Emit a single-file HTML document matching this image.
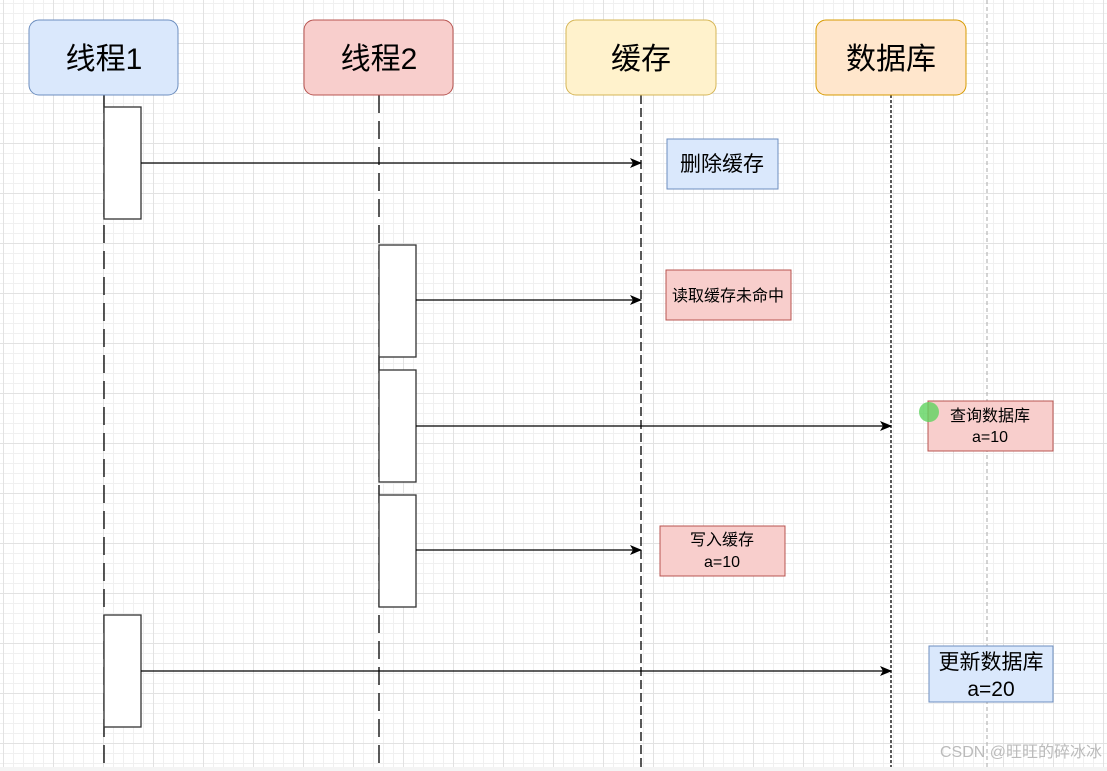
<!DOCTYPE html>
<html><head><meta charset="utf-8"><style>
body{margin:0;width:1107px;height:771px;overflow:hidden;background:#fff;
background-image:linear-gradient(#e2e2e2 1px,transparent 1px),linear-gradient(90deg,#e2e2e2 1px,transparent 1px),linear-gradient(#f0f0f0 1px,transparent 1px),linear-gradient(90deg,#f0f0f0 1px,transparent 1px);
background-size:50px 50px,50px 50px,10px 10px,10px 10px;background-position:0 -7px,3px 0,0 -7px,3px 0;
font-family:"Liberation Sans","Noto Sans CJK SC",sans-serif;}
</style></head><body>
<svg width="1107" height="771" style="position:absolute;left:0;top:0" font-family="Liberation Sans, Noto Sans CJK SC, sans-serif">
<defs><marker id="a" markerWidth="12" markerHeight="10" refX="11" refY="5" orient="auto" markerUnits="userSpaceOnUse"><path d="M0,0 L12,5 L0,10 L3,5z" fill="#000"/></marker></defs>
<line x1="987" y1="0" x2="987" y2="771" stroke="#aaa" stroke-dasharray="4,3"/>
<g stroke="#000" stroke-width="1.3">
<line x1="104" y1="95" x2="104" y2="771" stroke-dasharray="18,8"/>
<line x1="379" y1="95" x2="379" y2="771" stroke-dasharray="18,8"/>
<line x1="641" y1="95" x2="641" y2="771" stroke-dasharray="9,4"/>
<line x1="891" y1="95" x2="891" y2="771" stroke-dasharray="3,2"/>
</g>
<rect x="29" y="20" width="149" height="75" rx="10" fill="#dae8fc" stroke="#6c8ebf"/>
<rect x="304" y="20" width="149" height="75" rx="10" fill="#f8cecc" stroke="#b85450"/>
<rect x="566" y="20" width="150" height="75" rx="10" fill="#fff2cc" stroke="#d6b656"/>
<rect x="816" y="20" width="150" height="75" rx="10" fill="#ffe6cc" stroke="#d79b00"/>
<g font-size="30" text-anchor="middle">
<text x="104" y="69">线程1</text><text x="379" y="69">线程2</text><text x="641" y="69">缓存</text><text x="891" y="69">数据库</text></g>
<g fill="#fff" stroke="#333" stroke-width="1.3">
<rect x="104" y="107" width="37" height="112"/><rect x="104" y="615" width="37" height="112"/>
<rect x="379" y="245" width="37" height="112"/><rect x="379" y="370" width="37" height="112"/><rect x="379" y="495" width="37" height="112"/>
</g>
<g stroke="#000" stroke-width="1.3" marker-end="url(#a)">
<line x1="141" y1="163" x2="641" y2="163"/><line x1="416" y1="300" x2="641" y2="300"/>
<line x1="416" y1="426" x2="891" y2="426"/><line x1="416" y1="550" x2="641" y2="550"/>
<line x1="141" y1="671" x2="891" y2="671"/></g>
<rect x="667" y="139" width="111" height="50" fill="#dae8fc" stroke="#6c8ebf"/>
<text x="722" y="171" font-size="21" text-anchor="middle">删除缓存</text>
<rect x="666" y="270" width="125" height="50" fill="#f8cecc" stroke="#b85450"/>
<text x="728" y="301" font-size="16" text-anchor="middle">读取缓存未命中</text>
<rect x="928" y="401" width="125" height="50" fill="#f8cecc" stroke="#b85450"/>
<text x="990" y="421" font-size="16" text-anchor="middle">查询数据库</text>
<text x="990" y="442" font-size="16" text-anchor="middle">a=10</text>
<circle cx="929" cy="412" r="10" fill="#5fd35f" opacity="0.8"/>
<rect x="660" y="526" width="125" height="50" fill="#f8cecc" stroke="#b85450"/>
<text x="722" y="545" font-size="16" text-anchor="middle">写入缓存</text>
<text x="722" y="567" font-size="16" text-anchor="middle">a=10</text>
<rect x="929" y="646" width="124" height="56" fill="#dae8fc" stroke="#6c8ebf"/>
<text x="991" y="669" font-size="21" text-anchor="middle">更新数据库</text>
<text x="991" y="696" font-size="21" text-anchor="middle">a=20</text>
<text x="1102" y="757" font-size="16" text-anchor="end" fill="#bbb">CSDN @旺旺的碎冰冰</text>
<rect x="0" y="767" width="1107" height="4" fill="#f4f4f4"/>
</svg>
</body></html>
